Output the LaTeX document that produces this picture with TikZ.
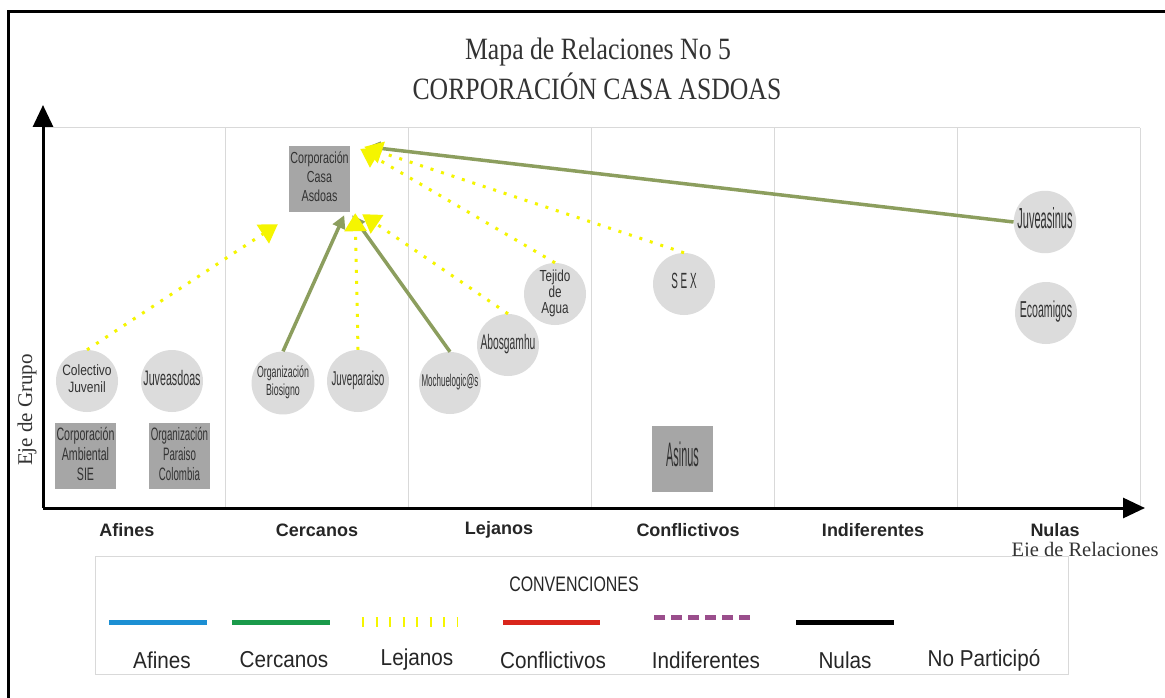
\documentclass[tikz,border=0pt]{standalone}
\usepackage{fontspec}
\setmainfont{Liberation Sans}
\newfontfamily\serifont{Liberation Serif}
\usetikzlibrary{arrows.meta}
\definecolor{circfill}{HTML}{DCDCDC}
\definecolor{boxfill}{HTML}{A6A6A6}
\definecolor{txtgray}{HTML}{333333}
\definecolor{gridgray}{HTML}{D9D9D9}
\definecolor{olivegreen}{HTML}{8C9E5E}
\definecolor{faryellow}{HTML}{F5F500}
\definecolor{legblue}{HTML}{1C8FD3}
\definecolor{leggreen}{HTML}{1A9A4A}
\definecolor{legred}{HTML}{D9261C}
\definecolor{legpurple}{HTML}{9A4E8C}
% #1 xscale, #2 font size, #3 line distance, #4 text
\newcommand\nx[4]{\fontsize{#2}{#3}\selectfont\scalebox{#1}[1]{\begin{tabular}{@{}c@{}}#4\end{tabular}}}
\tikzset{
  circ/.style={circle, fill=circfill, minimum size=62pt, inner sep=0pt, text=txtgray},
  gbox/.style={rectangle, fill=boxfill, minimum width=61pt, minimum height=66pt, inner sep=0pt, text=txtgray},
  farline/.style={faryellow, line width=3pt, dash pattern=on 3pt off 8pt, -{Triangle[length=18pt,width=22pt,fill=faryellow]}},
  nearline/.style={olivegreen, line width=3.5pt, -{Triangle[length=13pt,width=13pt]}},
  axislbl/.style={font=\fontsize{18}{18}\selectfont\bfseries, text=black!85},
  leglbl/.style={font=\fontsize{23}{23}\selectfont, text=black!85},
  gridline/.style={gridgray, line width=1pt},
}
\begin{document}
\begin{tikzpicture}[x=1pt,y=-1pt]
\useasboundingbox (0,0) rectangle (1165,698);
\fill[white] (0,0) rectangle (1165,698);
% outer border
\draw[line width=3pt] (8,12) rectangle (1180,712);
% title
\node[font=\serifont\fontsize{31}{31}\selectfont, text=black!80] (t1) at (598,52) {\scalebox{0.83}[1]{Mapa de Relaciones No 5}};
\node[font=\serifont\fontsize{31}{31}\selectfont, text=black!80] (t2) at (597,86) {\scalebox{0.83}[1]{CORPORACIÓN CASA ASDOAS}};
% grid
\draw[gridline] (43,128) -- (1140,128);
\foreach \x in {225.8,408.7,591.5,774,957,1140} \draw[gridline] (\x,128) -- (\x,508);
% axes
\coordinate (o) at (43,508);
\coordinate (ytip) at (43,105);
\coordinate (xtip) at (1145,508);
\draw[line width=3pt, -{Triangle[length=22pt,width=20pt]}] (o) -- (ytip);
\draw[line width=3pt, -{Triangle[length=22pt,width=20pt]}] (o) -- (xtip);
% axis labels
\node[axislbl] (la) at (127,530) {Afines};
\node[axislbl] (lb) at (317,530) {Cercanos};
\node[axislbl] (lc) at (499,530) {Lejanos};
\node[axislbl] (ld) at (688,530) {Conflictivos};
\node[axislbl] (le) at (873,530) {Indiferentes};
\node[axislbl] (lf) at (1055,530) {Nulas};
\node[font=\serifont\fontsize{20.5}{20.5}\selectfont, text=black!80, anchor=east] (ejx) at (1162,552) {Eje de Relaciones};
\node[font=\serifont\fontsize{21}{21}\selectfont, text=black!80, rotate=90] (ejy) at (27,410) {Eje de Grupo};
% nodes
\node[gbox] (corp) at (319.5,179) {\nx{0.67}{16}{19}{Corporación\\Casa\\Asdoas}};
\node[circ] (colec) at (87,381) {\nx{0.8}{15}{17}{Colectivo\\Juvenil}};
\node[circ] (juvea) at (172,381) {\nx{0.51}{21}{21}{Juveasdoas}};
\node[gbox] (sie) at (85.5,456) {\nx{0.59}{18}{20}{Corporación\\Ambiental\\SIE}};
\node[gbox] (parc) at (179.5,456) {\nx{0.54}{18}{20}{Organización\\Paraiso\\Colombia}};
\node[circ] (bios) at (283,383) {\nx{0.55}{16}{18}{Organización\\Biosigno}};
\node[circ] (juvep) at (358,381) {\nx{0.49}{20}{20}{Juveparaiso}};
\node[circ] (moch) at (450,383) {\nx{0.47}{17}{17}{Mochuelogic@s}};
\node[circ] (abos) at (508,345) {\nx{0.49}{21}{21}{Abosgamhu}};
\node[circ] (teji) at (555,294) {\nx{0.73}{16}{15.5}{Tejido\\de\\Agua}};
\node[circ] (sex) at (684,284) {\nx{0.45}{22}{22}{S\ E\ X}};
\node[gbox] (asin) at (682.5,459) {\nx{0.32}{34}{34}{Asinus}};
\node[circ] (juvs) at (1045,222) {\nx{0.38}{29}{29}{Juveasinus}};
\node[circ] (ecoa) at (1046,313) {\nx{0.46}{23}{23}{Ecoamigos}};
% connectors
\draw[nearline] (juvs.west) -- ([xshift=17pt,yshift=-1pt]corp.north east);
\draw[nearline] (bios.north) -- ([xshift=-6pt,yshift=-3pt]corp.south east);
\draw[nearline] (moch.north) -- ([xshift=2pt,yshift=-3pt]corp.south east);
\draw[farline] (colec.north) -- ([xshift=-11pt,yshift=-12pt]corp.south west);
\draw[farline] (juvep.north) -- ([xshift=5pt,yshift=-1pt]corp.south east);
\draw[farline] (abos.north) -- ([xshift=12pt,yshift=-2pt]corp.south east);
\draw[farline] (teji.north) -- ([xshift=10pt,yshift=-3pt]corp.north east);
\draw[farline] (sex.north) -- ([xshift=14pt,yshift=-1pt]corp.north east);
% legend
\draw[gridgray, line width=1pt, fill=white] (95,556) rectangle (1068,674);
\node[font=\fontsize{21}{21}\selectfont, text=black!85] (conv) at (574,584) {\scalebox{0.76}[1]{CONVENCIONES}};
\coordinate (b1) at (109,622); \coordinate (b2) at (207,622);
\coordinate (g1) at (232,622); \coordinate (g2) at (330,622);
\coordinate (y1) at (362,622); \coordinate (y2) at (458,622);
\coordinate (r1) at (503,622); \coordinate (r2) at (600,622);
\coordinate (p1) at (654,617); \coordinate (p2) at (752,617);
\coordinate (k1) at (796,622); \coordinate (k2) at (894,622);
\draw[legblue, line width=5pt] (b1) -- (b2);
\draw[leggreen, line width=5pt] (g1) -- (g2);
\draw[faryellow, line width=10pt, dash pattern=on 2pt off 11.5pt] (y1) -- (y2);
\draw[legred, line width=5pt] (r1) -- (r2);
\draw[legpurple, line width=5pt, dash pattern=on 11pt off 6pt] (p1) -- (p2);
\draw[black, line width=5pt] (k1) -- (k2);
\node[leglbl] (l1) at (162,660) {\scalebox{0.9}[1]{Afines}};
\node[leglbl] (l2) at (284,660) {\scalebox{0.9}[1]{Cercanos}};
\node[leglbl] (l3) at (417,660) {\scalebox{0.9}[1]{Lejanos}};
\node[leglbl] (l4) at (553,660) {\scalebox{0.9}[1]{Conflictivos}};
\node[leglbl] (l5) at (706,660) {\scalebox{0.9}[1]{Indiferentes}};
\node[leglbl] (l6) at (845,660) {\scalebox{0.9}[1]{Nulas}};
\node[leglbl] (l7) at (984,660) {\scalebox{0.9}[1]{No Participó}};
\end{tikzpicture}
\end{document}
